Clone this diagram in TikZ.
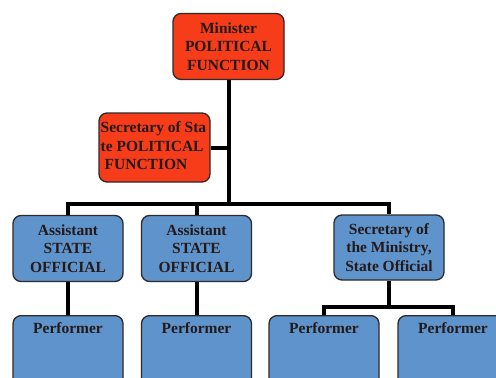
\documentclass[tikz,border=0pt]{standalone}
\usepackage{fontspec}
\setmainfont{Liberation Serif}
\usepackage{xcolor}
\definecolor{redfill}{HTML}{F63C18}
\definecolor{bluefill}{HTML}{5F93CB}
\definecolor{boxline}{HTML}{2E2A2A}
\definecolor{inkcol}{HTML}{241A1A}

\begin{document}
\begin{tikzpicture}[x=1pt, y=-1pt,
	box/.style = {draw=boxline, line width=1.3pt, rounded corners=8pt, text=inkcol,
		font=\fontsize{15.5}{18.5}\selectfont\bfseries, align=center, inner sep=0pt},
	redbox/.style = {box, fill=redfill, minimum width=111pt, minimum height=66pt},
	bluebox/.style = {box, fill=bluefill, minimum width=110pt, minimum height=66pt},
	perfbox/.style = {box, fill=bluefill, minimum width=110pt, text height=11pt, text depth=60pt, inner ysep=7pt},
	link/.style = {line width=4pt}]
	\clip (0,0) rectangle (496,378);
	\fill[white] (0,0) rectangle (496,378);

	% political level
	\node[redbox] (minister) at (228.5,46.5) {Minister\\POLITICAL\\FUNCTION};
	\node[redbox, minimum height=69pt] (secstate) at (154.5,147.5) {};
	\node[box, draw=none, align=left, anchor=west] (secstatetext) at (100,146)
		{Secretary of Sta\\te POLITICAL\\\hspace{4pt}FUNCTION};

	% state officials
	\node[bluebox] (asstA) at (68,248.5) {Assistant\\STATE\\OFFICIAL};
	\node[bluebox] (asstB) at (196.5,248.5) {Assistant\\STATE\\OFFICIAL};
	\node[bluebox, minimum height=65pt] (secmin) at (389,247.5) {Secretary of\\the Ministry,\\State Official};

	% performers
	\node[perfbox, anchor=north] (perfA) at (68,315) {Performer};
	\node[perfbox, anchor=north] (perfB) at (196.5,315) {Performer};
	\node[perfbox, anchor=north] (perfC) at (324,315) {Performer};
	\node[perfbox, anchor=north] (perfD) at (453,315) {Performer};

	\coordinate (bar) at (228.5,204);
	\coordinate (split) at (389,307);

	\draw[link] (minister.south) -- (bar);
	\draw[link] (secstate.east) -- (secstate.east -| minister.south);
	\draw[link] (asstA.north) |- (bar) -| (secmin.north);
	\draw[link] (bar) -| (asstB.north);
	\draw[link] (asstA.south) -- (perfA.north);
	\draw[link] (asstB.south) -- (perfB.north);
	\draw[link] (secmin.south) -- (split);
	\draw[link] (perfC.north) |- (split) -| (perfD.north);
\end{tikzpicture}
\end{document}
